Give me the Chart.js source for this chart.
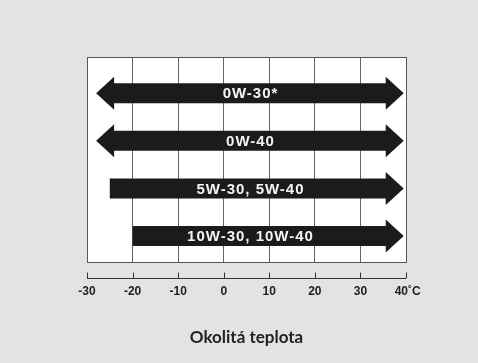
<!DOCTYPE html>
<html>
<head>
<meta charset="utf-8">
<script src="https://cdn.jsdelivr.net/npm/chart.js@4/dist/chart.umd.min.js"></script>
<style>
  html, body { margin: 0; padding: 0; background: #e3e3e3; }
  #wrap { width: 478px; height: 363px; }
</style>
</head>
<body>
<div id="wrap"><canvas id="oilChart" width="478" height="363"></canvas></div>
<script>
// Oil grades and their temperature ranges (°C)
const grades = ['0W-30*', '0W-40', '5W-30, 5W-40', '10W-30, 10W-40'];
const fromTemp = [-28, -28, -25, -20];
const toTemp = [39.5, 39.5, 39.5, 39.5];
const leftArrow = [true, true, false, false];
const tempTicks = [-30, -20, -10, 0, 10, 20, 30, 40];

const ctx = document.getElementById('oilChart').getContext('2d');

// white plot box with a frame
const plotBox = {
  id: 'plotBox',
  beforeDraw(chart) {
    const { ctx, chartArea: a } = chart;
    ctx.save();
    ctx.fillStyle = '#ffffff';
    ctx.fillRect(a.left, a.top, a.right - a.left, a.bottom - a.top);
    ctx.restore();
  },
  afterDraw(chart) {
    const { ctx, chartArea: a } = chart;
    ctx.save();
    ctx.strokeStyle = '#555';
    ctx.lineWidth = 1;
    ctx.strokeRect(Math.round(a.left) + 0.5, Math.round(a.top) + 0.5, Math.round(a.right - a.left), Math.round(a.bottom - a.top));
    // separate temperature axis below the box
    const xs = chart.scales.x;
    const y = Math.round(a.bottom) + 16.5;
    ctx.strokeStyle = '#333';
    ctx.beginPath();
    ctx.moveTo(xs.getPixelForValue(-30), y);
    ctx.lineTo(xs.getPixelForValue(40), y);
    tempTicks.forEach(t => {
      const px = Math.round(xs.getPixelForValue(t)) + 0.5;
      ctx.moveTo(px, y);
      ctx.lineTo(px, y - 6);
    });
    ctx.stroke();
    ctx.restore();
  }
};

// draw each bar as an arrow
const arrows = {
  id: 'arrows',
  afterDatasetsDraw(chart) {
    const { ctx, chartArea: a } = chart;
    const meta = chart.getDatasetMeta(0);
    const headLen = 18, headH = 33, shaftH = 20;
    ctx.save();
    meta.data.forEach((bar, i) => {
      const { x, y, base } = bar.getProps(['x', 'y', 'base'], true);
      ctx.fillStyle = '#1b1b1b';
      ctx.beginPath();
      const l = leftArrow[i] ? base + headLen : base;
      const r = x - headLen;
      ctx.moveTo(l, y - shaftH / 2);
      ctx.lineTo(r, y - shaftH / 2);
      ctx.lineTo(r, y - headH / 2);
      ctx.lineTo(x, y);
      ctx.lineTo(r, y + headH / 2);
      ctx.lineTo(r, y + shaftH / 2);
      ctx.lineTo(l, y + shaftH / 2);
      if (leftArrow[i]) {
        ctx.lineTo(l, y + headH / 2);
        ctx.lineTo(base, y);
        ctx.lineTo(l, y - headH / 2);
      }
      ctx.closePath();
      ctx.fill();

      ctx.fillStyle = '#f4f4f4';
      ctx.font = 'bold 15px "Liberation Sans", Arial, sans-serif';
      ctx.letterSpacing = '1px';
      ctx.textAlign = 'center';
      ctx.textBaseline = 'middle';
      ctx.fillText(grades[i], (a.left + a.right) / 2 + 4, y + 1);
    });
    ctx.restore();
  }
};

const chart = new Chart(ctx, {
  type: 'bar',
  data: {
    datasets: [{
      data: grades.map((g, i) => ({ x: [fromTemp[i], toTemp[i]], y: i })),
      backgroundColor: 'rgba(0,0,0,0)',
      barThickness: 20
    }]
  },
  plugins: [plotBox, arrows],
  options: {
    indexAxis: 'y',
    responsive: false,
    animation: false,
    layout: { padding: { left: 87, right: 72, top: 57, bottom: 15 } },
    plugins: {
      legend: { display: false },
      tooltip: { enabled: false },
      title: {
        display: true,
        position: 'bottom',
        text: 'Okolitá teplota',
        color: '#222',
        font: { family: 'Lato, "Open Sans", sans-serif', size: 17, weight: 'bold' },
        padding: { top: 7, bottom: 0 }
      }
    },
    scales: {
      x: {
        type: 'linear',
        min: -30,
        max: 40,
        afterBuildTicks: s => { s.ticks = tempTicks.map(v => ({ value: v })); },
        grid: { color: '#666', lineWidth: 1, drawTicks: false },
        border: { color: '#555' },
        ticks: {
          padding: 22,
          color: '#222',
          font: { family: '"Liberation Sans", Arial, sans-serif', size: 12, weight: 'bold' },
          callback: v => v === 40 ? ' 40˚C' : String(v)
        }
      },
      y: {
        type: 'linear',
        reverse: true,
        offset: false,
        min: -0.76,
        max: 3.55,
        display: false
      }
    }
  }
});
</script>
</body>
</html>
